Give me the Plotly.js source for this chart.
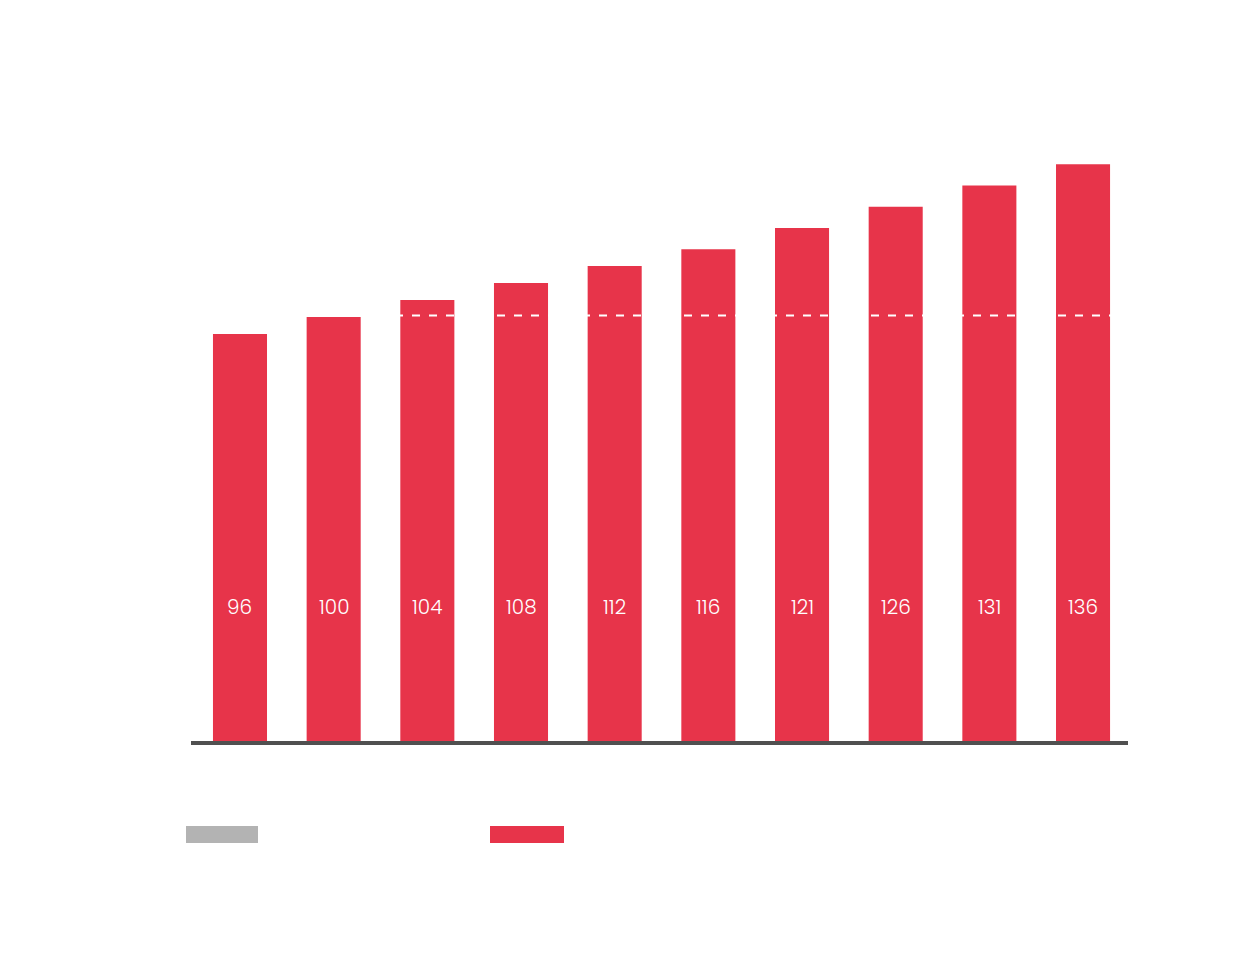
<!DOCTYPE html>
<html>
<head>
<meta charset="utf-8">
<script src="https://cdn.plot.ly/plotly-3.0.1.min.js"></script>
<style>html,body{margin:0;padding:0;background:#fff;}#chart{width:1250px;height:958px;}</style>
</head>
<body>
<div id="chart"></div>
<script>
// Data
const categories = [0, 1, 2, 3, 4, 5, 6, 7, 8, 9];
const values = [96, 100, 104, 108, 112, 116, 121, 126, 131, 136];
const referenceLevel = [100.35];
const legendColors = ['#B3B3B3', '#E7344A'];

const RED = '#E7344A';
const LABEL_Y = 31.6;

const traces = [{
  type: 'bar',
  x: categories,
  y: values,
  width: 0.577,
  marker: {color: RED, line: {width: 0}},
  hoverinfo: 'none',
  showlegend: false
}];

const annotations = categories.map((c, i) => ({
  x: c, y: LABEL_Y, xref: 'x', yref: 'y',
  text: String(values[i]),
  showarrow: false,
  font: {family: '"Poppins Light", Poppins, Lato, "Open Sans", sans-serif', size: 20, color: '#ffffff', weight: 300}
}));

const shapes = [
  {type: 'line', xref: 'paper', yref: 'y', x0: 0, x1: 1, y0: referenceLevel[0], y1: referenceLevel[0],
   line: {color: '#ffffff', width: 2.2, dash: '8px,9px'}, layer: 'above'},
  {type: 'rect', xref: 'paper', yref: 'paper', x0: (186-191)/937, x1: (258-191)/937, y0: -(826-741)/641, y1: -(843-741)/641,
   fillcolor: legendColors[0], line: {width: 0}},
  {type: 'rect', xref: 'paper', yref: 'paper', x0: (490-191)/937, x1: (564-191)/937, y0: -(826-741)/641, y1: -(843-741)/641,
   fillcolor: legendColors[1], line: {width: 0}}
];

const layout = {
  width: 1250, height: 958,
  margin: {l: 191, r: 122, t: 100, b: 217},
  paper_bgcolor: '#ffffff', plot_bgcolor: '#ffffff',
  showlegend: false,
  xaxis: {range: [-0.523, 9.48], showgrid: false, zeroline: false, showticklabels: false,
          ticks: '', showline: true, linecolor: '#505050', linewidth: 4, fixedrange: true},
  yaxis: {range: [0, 641/4.24], showgrid: false, zeroline: false, showticklabels: false,
          ticks: '', showline: false, fixedrange: true},
  annotations: annotations,
  shapes: shapes
};

Plotly.newPlot('chart', traces, layout, {displayModeBar: false, staticPlot: true});
</script>
</body>
</html>
